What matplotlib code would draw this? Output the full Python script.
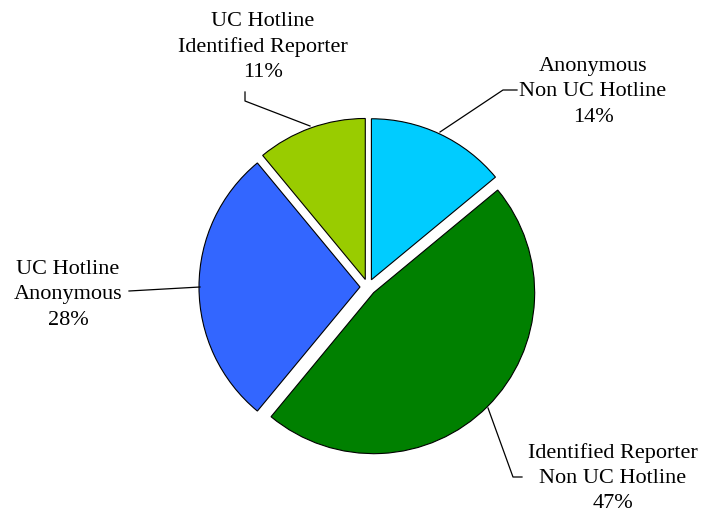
import numpy as np
import matplotlib.pyplot as plt

# slice data, clockwise from 12 o'clock
labels = ['Anonymous\nNon UC Hotline', 'Identified Reporter\nNon UC Hotline',
          'UC Hotline\nAnonymous', 'UC Hotline\nIdentified Reporter']
shares = [14, 47, 28, 11]
colors = ['#00CCFF', '#008000', '#3366FF', '#99CC00']

W, H = 701, 513
fig = plt.figure(figsize=(W / 100, H / 100), dpi=100)
ax = fig.add_axes([0, 0, 1, 1])

cx, cy, R = 368, H - 287, 161
# explode is an absolute offset here (axes units = pixels)
wedges, _ = ax.pie(shares, colors=colors, startangle=90, counterclock=False,
                   center=(cx, cy), radius=R, explode=[8] * 4,
                   wedgeprops=dict(edgecolor='black', linewidth=0.8))
ax.set_xlim(0, W)
ax.set_ylim(0, H)
ax.set_aspect('equal')
ax.axis('off')

# label anchor (text centre, pixels from top) and leader line points
label_pos = [(593, 92), (613, 478), (68, 295), (263, 47)]
leaders = [
    [(517, 90), (503, 90), (440, 132)],
    [(522, 477), (513, 477), (488, 408)],
    [(129, 291), (200, 287)],
    [(245, 92), (245, 101), (310, 126)],
]

for lab, s, (tx, ty), pts in zip(labels, shares, label_pos, leaders):
    ax.text(tx, H - ty, f'{lab}\n{s}%', ha='center', va='center',
            fontsize=16, family='Liberation Serif', linespacing=1.45)
    xs = [p[0] for p in pts]
    ys = [H - p[1] for p in pts]
    ax.plot(xs, ys, color='black', lw=0.9)

fig.savefig('out.png', dpi=100)
